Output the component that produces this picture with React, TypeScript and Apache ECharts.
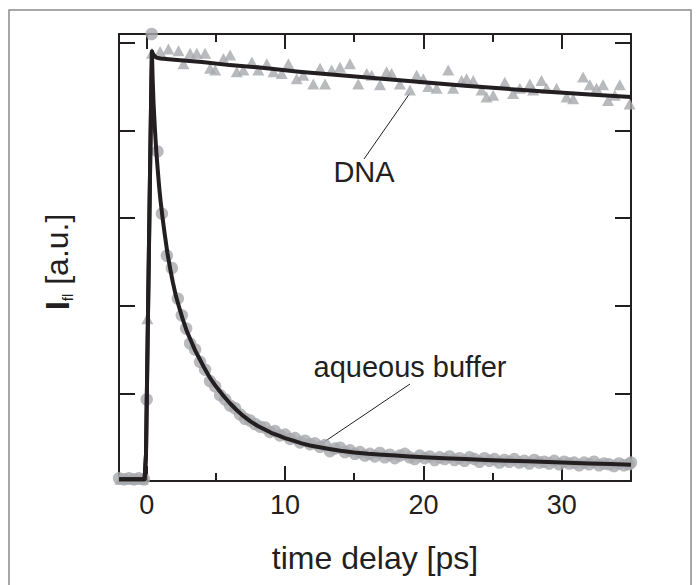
import React, { useEffect, useRef } from "react";
import * as echarts from "echarts";

// ---- tick values ----
const xMajorTicks = [0, 10, 20, 30];
const xMinorTicks = [5, 15, 25, 35];
const yTicks = [0, 1, 2, 3, 4, 5];

// ---- aqueous buffer: measured points (circles) ----
const bufferPoints: [number, number][] = [
  [-2.0, 0.03], [-1.64, 0.02], [-1.28, 0.03], [-0.92, 0.02], [-0.56, 0.03], [-0.2, 0.02],
  [0.0, 0.93], [0.36, 5.1],
  [0.78, 3.76], [1.1, 3.05], [1.46, 2.57], [1.82, 2.43], [2.25, 2.08], [2.54, 1.89], [2.85, 1.74],
  [3.14, 1.57], [3.5, 1.5], [3.86, 1.36], [4.22, 1.27], [4.58, 1.14], [4.95, 1.08], [5.31, 0.98],
  [5.67, 0.93], [6.03, 0.86], [6.39, 0.83], [6.75, 0.76], [7.11, 0.71], [7.47, 0.69], [7.83, 0.65],
  [8.19, 0.62], [8.55, 0.61], [8.91, 0.56], [9.27, 0.57], [9.63, 0.52], [10.0, 0.53], [10.36, 0.48],
  [10.72, 0.49], [11.08, 0.44], [11.44, 0.46], [11.8, 0.42], [12.16, 0.43], [12.52, 0.39], [12.88, 0.41],
  [13.24, 0.34], [13.6, 0.37], [13.97, 0.38], [14.33, 0.33], [14.69, 0.35], [15.05, 0.31],
  [15.41, 0.33], [15.77, 0.29], [16.13, 0.31], [16.49, 0.28], [16.85, 0.32], [17.21, 0.27], [17.57, 0.3],
  [17.93, 0.26], [18.29, 0.29], [18.65, 0.31], [19.01, 0.27], [19.37, 0.25], [19.73, 0.29], [20.09, 0.26],
  [20.45, 0.28], [20.81, 0.24], [21.17, 0.27], [21.53, 0.25], [21.89, 0.28], [22.25, 0.24], [22.61, 0.26],
  [22.97, 0.23], [23.33, 0.27], [23.69, 0.25], [24.05, 0.22], [24.41, 0.26], [24.77, 0.23], [25.13, 0.25],
  [25.49, 0.21], [25.85, 0.24], [26.21, 0.22], [26.57, 0.25], [26.93, 0.21], [27.29, 0.23], [27.65, 0.2],
  [28.01, 0.24], [28.37, 0.21], [28.73, 0.22], [29.09, 0.2], [29.45, 0.23], [29.81, 0.19], [30.17, 0.22],
  [30.53, 0.2], [30.89, 0.21], [31.25, 0.18], [31.61, 0.21], [31.97, 0.19], [32.33, 0.22], [32.69, 0.18],
  [33.05, 0.2], [33.41, 0.19], [33.77, 0.17], [34.13, 0.2], [34.49, 0.18], [34.85, 0.19], [35.0, 0.21],
];

// ---- DNA: measured points (triangles) ----
const dnaPoints: [number, number][] = [
  [-1.9, 0.02], [-1.5, 0.03], [-1.1, 0.02], [-0.7, 0.03], [-0.3, 0.02], [0.05, 1.85],
  [0.38, 4.88], [0.97, 4.9], [1.57, 4.93], [2.3, 4.91], [2.66, 4.76], [3.14, 4.88], [3.62, 4.88],
  [4.22, 4.88], [4.58, 4.71], [4.95, 4.69], [5.55, 4.82], [6.03, 4.86], [6.51, 4.67], [6.99, 4.69],
  [7.6, 4.78], [8.07, 4.69], [8.68, 4.76], [9.16, 4.67], [9.76, 4.65], [10.24, 4.76], [10.84, 4.59],
  [11.32, 4.63], [12.04, 4.53], [12.53, 4.71], [12.89, 4.53], [13.37, 4.69], [13.97, 4.72], [14.69, 4.76],
  [15.29, 4.53], [15.9, 4.65], [16.26, 4.63], [16.86, 4.52], [17.34, 4.67], [17.7, 4.65], [18.3, 4.53],
  [19.03, 4.46], [19.51, 4.63], [19.99, 4.59], [20.35, 4.5], [20.95, 4.48], [21.79, 4.69], [22.15, 4.48],
  [22.76, 4.57], [23.12, 4.59], [23.6, 4.57], [24.2, 4.46], [24.56, 4.38], [25.04, 4.4], [25.88, 4.55],
  [26.48, 4.42], [26.97, 4.48], [27.69, 4.53], [27.93, 4.46], [28.53, 4.57], [28.9, 4.48], [29.62, 4.48],
  [30.34, 4.38], [30.82, 4.36], [31.54, 4.61], [32.02, 4.52], [32.51, 4.48], [32.98, 4.52], [33.34, 4.34],
  [33.83, 4.4], [34.19, 4.52], [34.9, 4.3],
];

// ---- fitted curves ----
const bufferFit: [number, number][] = [
  [-2, 0.02], [-0.15, 0.02], [-0.05, 0.3], [0.05, 1.4], [0.15, 2.5], [0.25, 3.6], [0.33, 4.45], [0.38, 4.9],
  [0.43, 4.6], [0.5, 4.3], [0.6, 4.0], [0.7, 3.75], [0.8, 3.55], [0.9, 3.36], [1.0, 3.2], [1.15, 3.0],
  [1.3, 2.82], [1.5, 2.6], [1.7, 2.42], [1.9, 2.26], [2.1, 2.12], [2.35, 1.98], [2.6, 1.85], [2.9, 1.71],
  [3.2, 1.6], [3.5, 1.49], [3.8, 1.4], [4.2, 1.28], [4.6, 1.17], [5.0, 1.08], [5.5, 0.98], [6.0, 0.89],
  [6.5, 0.81], [7.0, 0.74], [7.5, 0.68], [8.0, 0.63], [8.5, 0.59], [9.0, 0.55], [9.5, 0.52], [10.0, 0.49],
  [10.6, 0.46], [11.2, 0.43], [11.8, 0.405], [12.5, 0.385], [13.2, 0.365], [14.0, 0.345], [15.0, 0.325],
  [16.0, 0.31], [17.0, 0.3], [18.0, 0.29], [19.0, 0.28], [20.0, 0.27], [21.5, 0.26], [23.0, 0.25],
  [24.5, 0.24], [26.0, 0.232], [27.5, 0.224], [29.0, 0.216], [30.5, 0.208], [32.0, 0.2], [33.5, 0.193],
  [35, 0.186],
];

const dnaFit: [number, number][] = [
  [-2, 0.02], [-0.15, 0.02], [-0.05, 0.3], [0.05, 1.4], [0.15, 2.5], [0.25, 3.6], [0.33, 4.45], [0.38, 4.9],
  [0.5, 4.86], [0.7, 4.83], [1.0, 4.82], [2, 4.805], [4, 4.78], [6, 4.745], [8, 4.72], [11, 4.67],
  [14, 4.63], [17, 4.59], [20, 4.55], [23, 4.51], [26, 4.475], [29, 4.44], [32, 4.41], [35, 4.38],
];

const INK = "#231f20";
const GRAY = "#a7a9ac";
const FONT = '"Liberation Sans", Arial, Helvetica, sans-serif';

export default function App() {
  const ref = useRef<HTMLDivElement>(null);

  useEffect(() => {
    const chart = echarts.init(ref.current!, null, { renderer: "svg" });

    const xCommon = {
      type: "value",
      min: -2,
      max: 35,
      gridIndex: 0,
      splitLine: { show: false },
    };
    const yCommon = {
      type: "value",
      min: 0,
      max: 5.1,
      gridIndex: 0,
      splitLine: { show: false },
      axisLabel: { show: false },
    };
    const lineStyle = { color: INK, width: 2 };

    chart.setOption({
      animation: false,
      backgroundColor: "#ffffff",
      grid: { left: 119, top: 34, width: 512, height: 447, containLabel: false },
      xAxis: [
        {
          ...xCommon,
          position: "bottom",
          axisLine: { show: true, onZero: false, lineStyle },
          axisTick: { show: true, inside: true, length: 15, customValues: xMajorTicks, lineStyle },
          axisLabel: {
            show: true,
            customValues: xMajorTicks,
            fontSize: 27,
            color: INK,
            fontFamily: FONT,
            margin: 10,
          },
        },
        {
          ...xCommon,
          position: "bottom",
          axisLine: { show: false, onZero: false },
          axisTick: { show: true, inside: true, length: 8, customValues: xMinorTicks, lineStyle },
          axisLabel: { show: false },
        },
        {
          ...xCommon,
          position: "top",
          axisLine: { show: true, onZero: false, lineStyle },
          axisTick: { show: true, inside: true, length: 15, customValues: xMajorTicks, lineStyle },
          axisLabel: { show: false },
        },
        {
          ...xCommon,
          position: "top",
          axisLine: { show: false, onZero: false },
          axisTick: { show: true, inside: true, length: 8, customValues: xMinorTicks, lineStyle },
          axisLabel: { show: false },
        },
      ],
      yAxis: [
        {
          ...yCommon,
          position: "left",
          axisLine: { show: true, onZero: false, lineStyle },
          axisTick: { show: true, inside: true, length: 16, customValues: yTicks, lineStyle },
        },
        {
          ...yCommon,
          position: "right",
          axisLine: { show: true, onZero: false, lineStyle },
          axisTick: { show: true, inside: true, length: 16, customValues: yTicks, lineStyle },
        },
      ],
      series: [
        {
          type: "scatter",
          name: "aqueous buffer data",
          data: bufferPoints,
          xAxisIndex: 0,
          yAxisIndex: 0,
          symbol: "circle",
          symbolSize: 12.5,
          itemStyle: { color: GRAY },
          clip: false,
          z: 2,
        },
        {
          type: "scatter",
          name: "DNA data",
          data: dnaPoints,
          xAxisIndex: 0,
          yAxisIndex: 0,
          symbol: "triangle",
          symbolSize: [12, 11],
          itemStyle: { color: GRAY },
          clip: false,
          z: 2,
        },
        {
          type: "line",
          name: "DNA fit",
          data: dnaFit,
          xAxisIndex: 0,
          yAxisIndex: 0,
          showSymbol: false,
          symbol: "none",
          lineStyle: { color: INK, width: 4, join: "round" },
          clip: false,
          z: 3,
        },
        {
          type: "line",
          name: "buffer fit",
          data: bufferFit,
          xAxisIndex: 0,
          yAxisIndex: 0,
          showSymbol: false,
          symbol: "none",
          lineStyle: { color: INK, width: 4, join: "round" },
          clip: false,
          z: 3,
        },
      ],
      graphic: [
        {
          type: "rect",
          silent: true,
          z: -10,
          shape: { x: 9, y: 10, width: 682, height: 640 },
          style: { fill: "none", stroke: "#8a8a8a", lineWidth: 1.5 },
        },
        {
          type: "line",
          silent: true,
          shape: { x1: 364, y1: 159, x2: 410, y2: 93 },
          style: { stroke: INK, lineWidth: 1 },
        },
        {
          type: "line",
          silent: true,
          shape: { x1: 410, y1: 384, x2: 321, y2: 444 },
          style: { stroke: INK, lineWidth: 1 },
        },
        {
          type: "text",
          silent: true,
          x: 364,
          y: 172,
          style: {
            text: "DNA",
            fontSize: 29,
            fontFamily: FONT,
            fill: INK,
            align: "center",
            verticalAlign: "middle",
          },
        },
        {
          type: "text",
          silent: true,
          x: 410,
          y: 367,
          style: {
            text: "aqueous buffer",
            fontSize: 29,
            fontFamily: FONT,
            fill: INK,
            align: "center",
            verticalAlign: "middle",
          },
        },
        {
          type: "text",
          silent: true,
          x: 375,
          y: 558,
          style: {
            text: "time delay [ps]",
            fontSize: 32,
            fontFamily: FONT,
            fill: INK,
            align: "center",
            verticalAlign: "middle",
          },
        },
        {
          type: "text",
          silent: true,
          x: 57,
          y: 262,
          rotation: Math.PI / 2,
          style: {
            text: "{b|I}{s|fl}{n| [a.u.]}",
            fontFamily: FONT,
            fill: INK,
            align: "center",
            verticalAlign: "middle",
            rich: {
              b: { fontSize: 33, fontWeight: "bold", fontFamily: FONT, fill: INK, lineHeight: 36 },
              s: { fontSize: 15, fontFamily: FONT, fill: INK, verticalAlign: "bottom", lineHeight: 16 },
              n: { fontSize: 32, fontFamily: FONT, fill: INK, lineHeight: 36 },
            },
          },
        },
      ],
    });

    return () => chart.dispose();
  }, []);

  return (
    <div
      ref={ref}
      style={{ position: "absolute", left: 0, top: 0, width: 700, height: 585, background: "#fff" }}
    />
  );
}
